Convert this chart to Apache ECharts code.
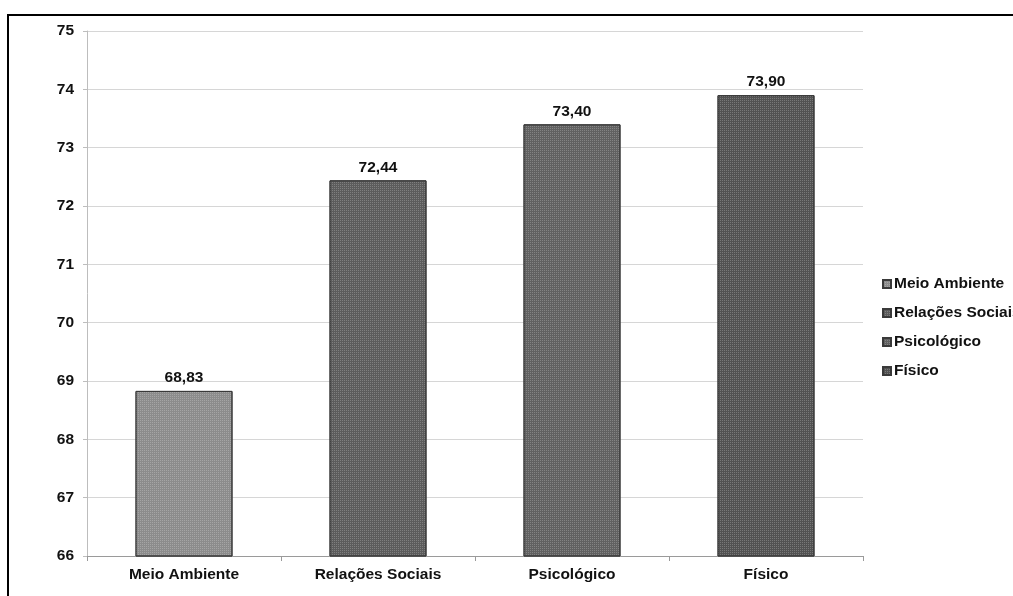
<!DOCTYPE html>
<html>
<head>
<meta charset="utf-8">
<script src="https://cdn.jsdelivr.net/npm/echarts@6/dist/echarts.min.js"></script>
<style>
  html, body { margin: 0; padding: 0; background: #fff; }
  #chart { width: 1013px; height: 596px; }
</style>
</head>
<body>
<div id="chart"></div>
<script>
  const categories = ['Meio Ambiente', 'Relações Sociais', 'Psicológico', 'Físico']
  const scores = [68.83, 72.44, 73.4, 73.9]
  const barColors = ['#8c8c8c', '#5c5c5c', '#616161', '#525252']

  let chart = echarts.init(document.getElementById('chart'))

  // one series per category so the legend lists each of them
  let series = categories.map(function (name, i) {
    return {
      name: name,
      type: 'bar',
      stack: 'all',
      barWidth: '50%',
      data: categories.map(function (c, j) { return j === i ? scores[i] : null }),
      itemStyle: {
        color: barColors[i],
        borderColor: '#3a3a3a',
        borderWidth: 1,
        decal: {
          symbol: 'rect',
          symbolSize: 1,
          color: 'rgba(255,255,255,0.22)',
          dashArrayX: [1, 1],
          dashArrayY: [1, 1],
        },
      },
      label: {
        show: true,
        position: 'top',
        distance: 5,
        color: '#111',
        fontWeight: 'bold',
        fontSize: 15.5,
        formatter: function (p) { return p.value.toFixed(2).replace('.', ',') },
      },
    }
  })

  chart.setOption({
    animation: false,
    textStyle: { fontFamily: 'Liberation Sans' },
    graphic: [{
      type: 'rect',
      shape: { x: 8, y: 15, width: 1020, height: 600 },
      style: { fill: 'none', stroke: '#000', lineWidth: 2 },
      silent: true,
    }],
    grid: { left: 87, right: 150, top: 31, bottom: 40 },
    legend: {
      orient: 'vertical',
      left: 877,
      top: 271,
      itemWidth: 8,
      itemHeight: 8,
      itemGap: 13,
      icon: 'rect',
      data: categories,
      textStyle: { color: '#111', fontWeight: 'bold', fontSize: 15.5, lineHeight: 16, padding: [0, 0, 0, -2] },
    },
    xAxis: {
      type: 'category',
      data: categories,
      axisLine: { lineStyle: { color: '#9a9a9a' } },
      axisTick: { show: true, length: 5, lineStyle: { color: '#9a9a9a' } },
      axisLabel: { color: '#111', fontWeight: 'bold', fontSize: 15.5, margin: 11 },
    },
    yAxis: {
      type: 'value',
      min: 66,
      max: 75,
      interval: 1,
      axisLine: { show: true, lineStyle: { color: '#bdbdbd' } },
      axisTick: { show: true, length: 4, lineStyle: { color: '#bdbdbd' } },
      axisLabel: { color: '#111', fontWeight: 'bold', fontSize: 15.5, margin: 13, padding: [3, 0, 0, 0] },
      splitLine: { lineStyle: { color: '#d6d6d6' } },
    },
    series: series,
  })
</script>
</body>
</html>
